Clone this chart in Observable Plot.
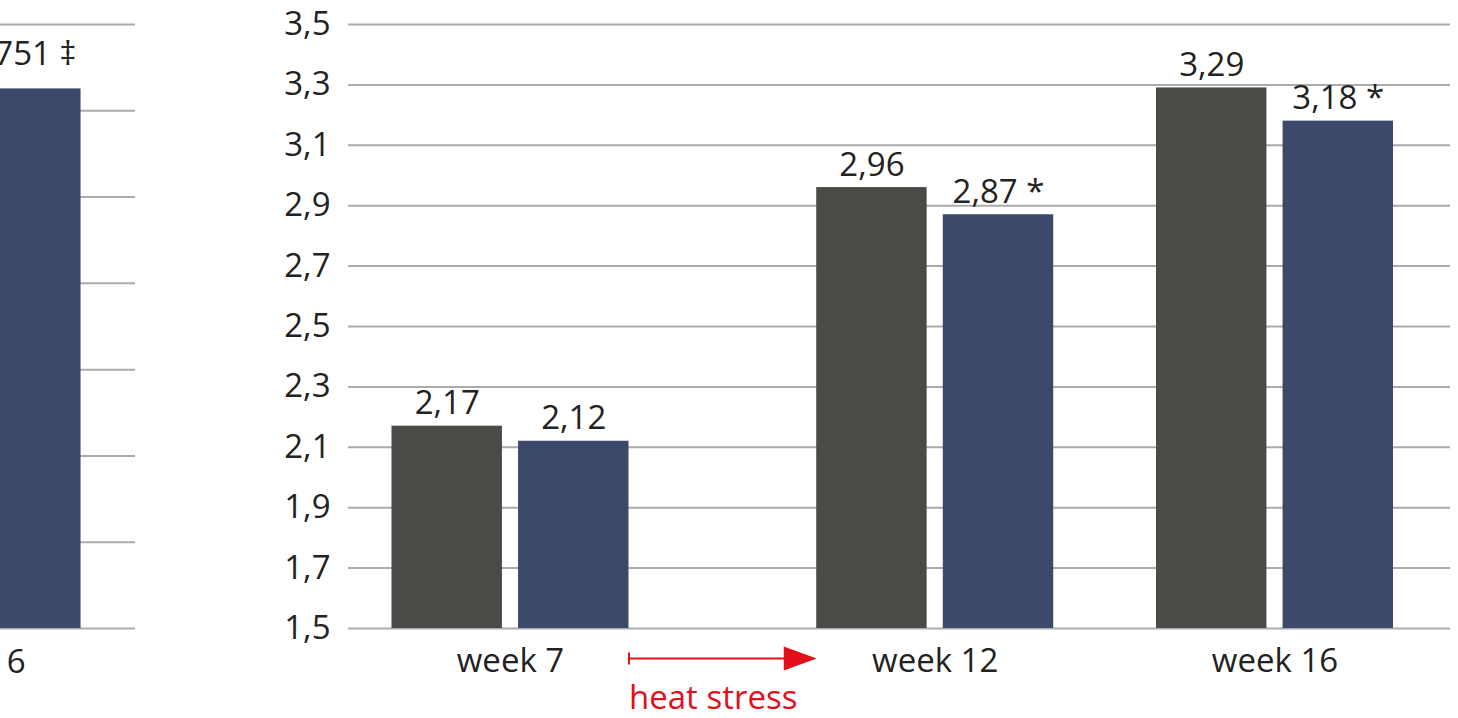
<!DOCTYPE html>
<html><head><meta charset="utf-8">
<script src="https://cdn.jsdelivr.net/npm/d3@7"></script>
<script src="https://cdn.jsdelivr.net/npm/@observablehq/plot@0.6"></script>
<style>
body{margin:0;background:#fff;}
#wrap{position:relative;width:1458px;height:718px;overflow:hidden;}
#left{position:absolute;left:0;top:0;width:140px;height:718px;overflow:hidden;}
#main{position:absolute;left:140px;top:0;}
svg{background:transparent;}
</style></head><body>
<div id="wrap"><div id="left"></div><div id="main"></div></div>
<script>
// ---- data ----
const weeks = [7, 12, 16];
const weekLabels = ["week 7", "week 12", "week 16"];
const controlValues = [2.17, 2.96, 3.29];
const treatedValues = [2.12, 2.87, 3.18];
const treatedMarks = ["", " *", " *"];
const yTicks = [1.5, 1.7, 1.9, 2.1, 2.3, 2.5, 2.7, 2.9, 3.1, 3.3, 3.5];
const heatStress = {from: 7, to: 12, label: "heat stress"};
// partially visible neighbouring chart
const leftWeeks = [16];
const leftWeekLabels = ["week 16"];
const leftTreatedValues = [1751];
const leftTreatedMarks = [" ‡"];
const leftYTicks = [0, 280, 560, 840, 1120, 1400, 1680, 1960];

// ---- style ----
const GRAY = "#4a4a47", BLUE = "#3c496b", RED = "#e3101b", GRID = "#ababab", INK = "#222";
const BAR = 1.3, HALF_GAP = 0.095;   // in week units
const EDGE = HALF_GAP + BAR;
const font = {fontFamily: "'Open Sans', sans-serif", fontSize: "33px", color: INK, background: "transparent", overflow: "visible"};
const fmt = d => d.toFixed(2).replace(".", ",");
const fmtTick = d => d.toFixed(1).replace(".", ",");

const control = weeks.map((w, i) => ({week: w, value: controlValues[i], label: fmt(controlValues[i])}));
const treated = weeks.map((w, i) => ({week: w, value: treatedValues[i], label: fmt(treatedValues[i]) + treatedMarks[i]}));

const triangle = {draw(ctx) { ctx.moveTo(-33, -12); ctx.lineTo(0, 0); ctx.lineTo(-33, 12); ctx.closePath(); }};
const vbar = {draw(ctx) { ctx.moveTo(0, -6); ctx.lineTo(0, 6); }};

const main = Plot.plot({
  width: 1318, height: 718,
  marginLeft: 208, marginRight: 8, marginTop: 24, marginBottom: 90,
  style: font,
  x: {type: "linear", domain: [5.093, 18.066], axis: null},
  y: {domain: [1.5, 3.5], axis: null},
  marks: [
    Plot.gridY(yTicks, {stroke: GRID, strokeOpacity: 1, strokeWidth: 2}),
    Plot.rect(control, {x1: d => d.week - EDGE, x2: d => d.week - HALF_GAP, y1: 1.5, y2: "value", fill: GRAY}),
    Plot.rect(treated, {x1: d => d.week + HALF_GAP, x2: d => d.week + EDGE, y1: 1.5, y2: "value", fill: BLUE}),
    Plot.text(control, {x: d => d.week - HALF_GAP - BAR / 2, y: "value", text: "label", lineAnchor: "bottom", dy: -12, fill: INK}),
    Plot.text(treated, {x: d => d.week + HALF_GAP + BAR / 2, y: "value", text: "label", lineAnchor: "bottom", dy: -12, fill: INK}),
    Plot.axisY({ticks: yTicks, tickSize: 0, tickPadding: 18, tickFormat: fmtTick, label: null}),
    Plot.axisX({ticks: weeks, tickSize: 0, tickPadding: 20, tickFormat: d => weekLabels[weeks.indexOf(d)], label: null}),
    // heat stress arrow
    Plot.link([heatStress], {x1: d => d.from + EDGE, x2: d => d.to - EDGE - 0.3, y1: 1.5, y2: 1.5, dy: 30, stroke: RED, strokeWidth: 2}),
    Plot.dot([heatStress], {x: d => d.from + EDGE, y: 1.5, dy: 30, symbol: vbar, stroke: RED, strokeWidth: 2, fill: "none"}),
    Plot.dot([heatStress], {x: d => d.to - EDGE, y: 1.5, dy: 30, symbol: triangle, fill: RED, stroke: "none"}),
    Plot.text([heatStress], {x: d => d.from + EDGE, y: 1.5, dy: 70, text: "label", textAnchor: "start", fill: RED})
  ]
});
document.getElementById("main").appendChild(main);

const leftData = leftWeeks.map((w, i) => ({week: w, value: leftTreatedValues[i], label: leftTreatedValues[i] + leftTreatedMarks[i], wl: leftWeekLabels[i]}));
const left = Plot.plot({
  width: 140, height: 718,
  marginLeft: 0, marginRight: 5, marginTop: 24, marginBottom: 90,
  style: font,
  x: {type: "linear", domain: [16.447, 18.036], axis: null},
  y: {domain: [0, 1960], axis: null},
  marks: [
    Plot.gridY(leftYTicks, {stroke: GRID, strokeOpacity: 1, strokeWidth: 2}),
    Plot.rect(leftData, {x1: d => d.week + HALF_GAP, x2: d => d.week + EDGE, y1: 0, y2: "value", fill: BLUE}),
    Plot.text(leftData, {x: d => d.week + HALF_GAP + BAR / 2, y: "value", text: "label", lineAnchor: "bottom", dy: -24, fill: INK}),
    Plot.text(leftData, {x: "week", y: 0, text: "wl", dy: 34, fill: INK})
  ]
});
document.getElementById("left").appendChild(left);
</script>
</body></html>
